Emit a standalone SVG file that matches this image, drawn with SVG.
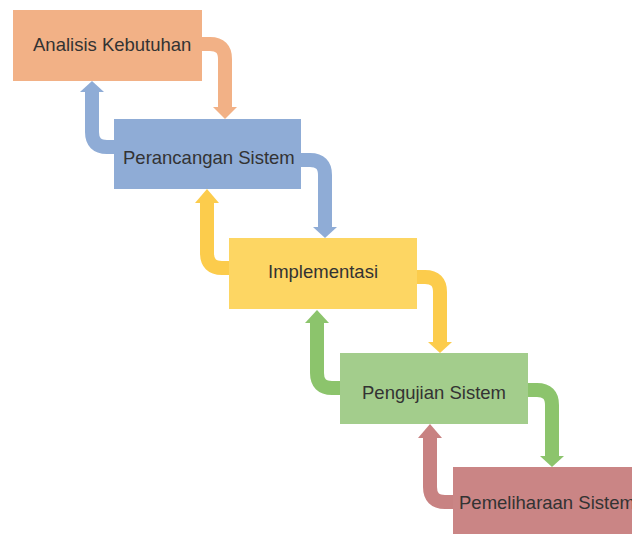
<svg xmlns="http://www.w3.org/2000/svg" width="632" height="534" viewBox="0 0 632 534">
<style>
.lbl{font-family:"Liberation Sans",Arial,sans-serif;font-size:18.5px;fill:#333333}
.c{fill:none;stroke-width:14}
</style>
<rect width="632" height="534" fill="#ffffff"/>
<g id="connectors">
<g id="c1"><path class="c" stroke="#F2B186" d="M201,44 H210 Q225,44 225,59 V108"/><polygon fill="#F2B186" points="213,107 237,107 225,119"/></g>
<g id="c2"><path class="c" stroke="#8FACD6" d="M115,147 H107 Q92,147 92,132 V91"/><polygon fill="#8FACD6" points="80,92 104,92 92,81"/></g>
<g id="c3"><path class="c" stroke="#8FACD6" d="M300,160 H310 Q325,160 325,175 V228"/><polygon fill="#8FACD6" points="313,227 337,227 325,238"/></g>
<g id="c4"><path class="c" stroke="#FCCC4C" d="M230,268 H222 Q207,268 207,253 V202"/><polygon fill="#FCCC4C" points="195,203 219,203 207,189"/></g>
<g id="c5"><path class="c" stroke="#FCCC4C" d="M416,277 H425 Q440,277 440,292 V343"/><polygon fill="#FCCC4C" points="428,342 452,342 440,353"/></g>
<g id="c6"><path class="c" stroke="#8CC46C" d="M341,388 H332 Q317,388 317,373 V322"/><polygon fill="#8CC46C" points="305,323 329,323 317,310"/></g>
<g id="c7"><path class="c" stroke="#8CC46C" d="M527,390 H537 Q552,390 552,405 V457"/><polygon fill="#8CC46C" points="540,456 564,456 552,467"/></g>
<g id="c8"><path class="c" stroke="#C88282" d="M454,502 H445 Q430,502 430,487 V437"/><polygon fill="#C88282" points="418,438 442,438 430,424"/></g>
</g>
<g id="n1"><rect x="13" y="10" width="189" height="71" fill="#F2B186"/><text class="lbl" x="33" y="51">Analisis Kebutuhan</text></g>
<g id="n2"><rect x="114" y="119" width="187" height="70" fill="#8FACD6"/><text class="lbl" x="123" y="164">Perancangan Sistem</text></g>
<g id="n3"><rect x="229" y="238" width="188" height="71" fill="#FDD663"/><text class="lbl" x="268" y="278">Implementasi</text></g>
<g id="n4"><rect x="340" y="353" width="188" height="71" fill="#A3CD8C"/><text class="lbl" x="362" y="399">Pengujian Sistem</text></g>
<g id="n5"><rect x="453" y="467" width="185" height="70" fill="#CA8585"/><text class="lbl" x="459" y="509">Pemeliharaan Sistem</text></g>
</svg>
